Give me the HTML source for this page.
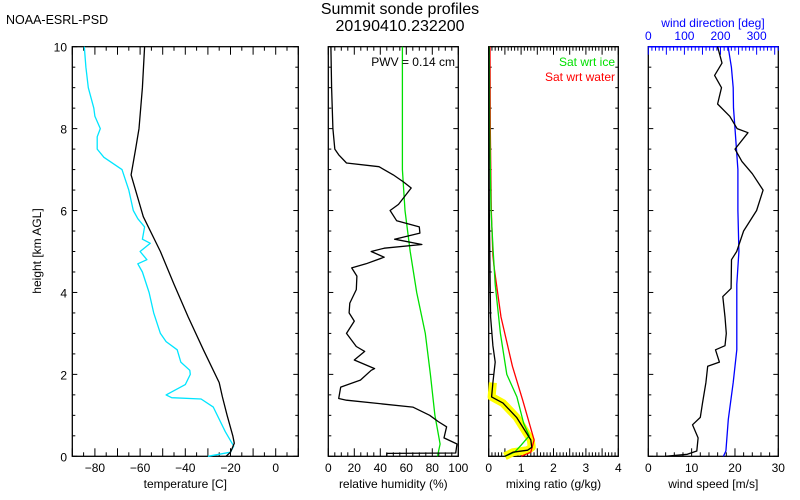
<!DOCTYPE html>
<html><head><meta charset="utf-8"><style>
body{margin:0;background:#fff;}
svg{display:block;font-family:"Liberation Sans","DejaVu Sans",sans-serif;}
</style></head><body>
<svg id="chart" width="800" height="500" viewBox="0 0 800 500" xmlns="http://www.w3.org/2000/svg">
<rect width="800" height="500" fill="#fff"/>
<text x="6" y="24" font-size="12.5">NOAA-ESRL-PSD</text>
<text x="400" y="14" font-size="16" text-anchor="middle">Summit sonde profiles</text>
<text x="400" y="31" font-size="16" text-anchor="middle">20190410.232200</text>
<g id="plots"></g>
</svg>
<script>
// ---- data (height km, value) ----
const tempH = [0,0.05,0.1,0.32,0.5,1.0,1.45,1.8,2.6,3.4,4.2,5.0,5.85,6.87,7.5,8,9,10];
const tempV = [-22,-21,-20,-18.3,-19,-21.5,-23.6,-25,-32,-38.7,-45,-51,-58.6,-64,-62,-60.5,-59,-58];
const dewH = [0,0.1,0.25,0.6,1.2,1.4,1.43,1.5,1.75,2.0,2.1,2.3,2.6,2.8,3.0,3.5,4.0,4.5,4.7,4.8,5.0,5.2,5.3,5.6,5.8,6.0,6.5,7.0,7.3,7.5,7.8,8.0,8.3,8.5,9,9.5,10];
const dewV = [-30,-20,-18.6,-22.3,-27.6,-33,-46,-48.5,-40,-37.8,-38,-42,-43.6,-48.5,-51,-54,-56,-59,-61,-57,-60,-55.5,-59,-58,-61,-63,-65,-68,-76,-79,-79,-77.6,-80,-80.5,-82.9,-84,-84.7];
const rhH = [0,0.07,0.08,0.3,0.45,0.72,0.85,1.0,1.2,1.37,1.41,1.69,1.86,2.1,2.14,2.35,2.56,2.68,3.0,3.3,3.5,3.74,4.07,4.4,4.6,4.7,4.86,5.0,5.08,5.17,5.3,5.45,5.6,5.75,6.0,6.15,6.55,6.7,6.87,7.07,7.16,7.36,7.5,8,9,10];
const rhV = [45,45,98,99,89,91,84.5,78,65,14,8,9.5,24.7,33,35.6,20,28,21.5,14,20,16,16.5,21.5,22,18,29,43,33,43,72,51,70.5,70,52.6,47.5,54,63.8,57.8,50,39,14,8,5,3.5,2.5,2];
const rhiH = [0,0.07,0.3,1,2,3,4,5,6,7,8,9,10];
const rhiV = [84,84.5,86,82,78.5,74.6,68,63,59,57,57,57,57];
const mrH = [0,0.1,0.15,0.22,0.4,0.95,1.3,1.45,1.8,2.3,2.7,3.4,4.5,6,8,10];
const mrV = [0.5,0.75,1.2,1.33,1.3,0.86,0.44,0.09,0.13,0.2,0.13,0.06,0.04,0.02,0.01,0.01];
const satIceH = [0,0.1,0.27,0.5,0.8,1.45,2.0,3.0,4.2,5,6,8,10];
const satIceV = [0.5,0.8,1.0,1.25,1.08,0.87,0.56,0.36,0.2,0.14,0.07,0.03,0.02];
const satWatH = [0,0.1,0.4,1.37,2.2,3.4,4.6,4.9,6,8,10];
const satWatV = [1.0,1.3,1.4,1.05,0.73,0.38,0.17,0.13,0.08,0.05,0.04];
const wsH = [0,0.05,0.13,0.45,0.77,0.95,1.3,1.8,2.2,2.3,2.6,2.7,3.0,3.4,3.9,4.1,4.8,5.0,5.5,6.0,6.5,6.9,7.2,7.5,7.9,8.0,8.3,8.6,9.0,9.3,9.6,10];
const wsV = [4,9,11.2,11.5,10.2,12,12.5,13.3,13.7,16.4,15.5,17.7,18,17.7,17.2,19.1,19.2,20.4,22,25,26.5,24,21.6,20,23,20.5,18.8,16,16.9,15.3,17,16];
const wdH = [0,0.13,0.9,1.8,2.6,3.4,4.2,5.0,6,7,8,8.5,9,9.5,10];
const wdV = [208,215,221.5,235,245,245,245,251,248,248,240,236,235,230,221];
const tempTicks = [-80,-60,-40,-20,0];
const rhTicks = [0,20,40,60,80,100];
const mrTicks = [0,1,2,3,4];
const wsTicks = [0,10,20,30];
const wdTicks = [0,100,200,300];
const hTicks = [0,2,4,6,8,10];

const NS='http://www.w3.org/2000/svg';
const g=document.getElementById('plots');
const Y0=456.3, Y1=46.7;
function yS(h){return Y0-(h/10)*(Y0-Y1);}
function mk(tag,attrs,parent){const e=document.createElementNS(NS,tag);for(const k in attrs)e.setAttribute(k,attrs[k]);(parent||g).appendChild(e);return e;}
function xScale(x0,x1,v0,v1){return v=>x0+(v-v0)/(v1-v0)*(x1-x0);}
const panels=[
 {name:'temperature',x0:72.3,x1:298.3,v0:-90,v1:10,ticks:tempTicks,minor:5,label:'temperature [C]'},
 {name:'humidity',x0:328.3,x1:458.3,v0:0,v1:100,ticks:rhTicks,minor:5,label:'relative humidity (%)'},
 {name:'mixing',x0:488.7,x1:618.3,v0:0,v1:4,ticks:mrTicks,minor:0.1,label:'mixing ratio (g/kg)'},
 {name:'wind',x0:648.3,x1:778.3,v0:0,v1:30,ticks:wsTicks,minor:2,label:'wind speed [m/s]'}
];
panels.forEach((p,i)=>{
 p.xs=xScale(p.x0,p.x1,p.v0,p.v1);
 const fr=mk('rect',{x:p.x0,y:Y1,width:p.x1-p.x0,height:Y0-Y1,fill:'none',stroke:'#000','stroke-width':1.3});
 
 
 // y ticks
 for(let h=0;h<=10.001;h+=0.5){
   const maj=Math.abs(h-Math.round(h/2)*2)<1e-6;const L=maj?5:3;
   mk('line',{x1:p.x0,x2:p.x0+L,y1:yS(h),y2:yS(h),stroke:'#000'});
   mk('line',{x1:p.x1,x2:p.x1-L,y1:yS(h),y2:yS(h),stroke:'#000'});
 }
 // x ticks
 const topAxis = (p.name!=='wind');
 for(let v=p.v0;v<=p.v1+1e-6;v+=p.minor){
   const maj=p.ticks.some(t=>Math.abs(t-v)<1e-6) || (p.name==='temperature'&&Math.abs(v%10)<1e-6)||(p.name==='mixing'&&Math.abs(v*2-Math.round(v*2))<1e-6)||(p.name==='wind'&&Math.abs(v%10)<1e-6);
   const L=maj?8:4;const x=p.xs(v);
   mk('line',{x1:x,x2:x,y1:Y0,y2:Y0-L,stroke:'#000'});
   if(topAxis) mk('line',{x1:x,x2:x,y1:Y1,y2:Y1+L,stroke:'#000'});
 }
 p.ticks.forEach(t=>{
   const tx=mk('text',{x:p.xs(t),y:472,'font-size':12,'text-anchor':'middle'});
   tx.textContent=(t<0?'\u2212'+(-t):String(t));
   
   
 });
 const lb=mk('text',{x:(p.x0+p.x1)/2,y:488,'font-size':12,'text-anchor':'middle'});
 lb.textContent=p.label;
 
 
});
// y labels
hTicks.forEach(h=>{
 const t=mk('text',{x:67,y:yS(h)+5,'font-size':12,'text-anchor':'end'});
 t.textContent=String(h);
 
 
});
const yt=mk('text',{x:0,y:0,'font-size':12,'text-anchor':'middle',transform:'translate(41,251) rotate(-90)'});
yt.textContent='height [km AGL]';



function line(p,H,V,color,w,name,xsOverride){
 const xs=xsOverride||p.xs;
 const d=H.map((h,i)=>(i?'L':'M')+xs(V[i]).toFixed(1)+','+yS(h).toFixed(1)).join('');
 const e=mk('path',{d:d,fill:'none',stroke:color,'stroke-width':w,'stroke-linejoin':'round'});
 
 
 return e;
}
const [P1,P2,P3,P4]=panels;
line(P1,dewH,dewV,'#00e5ff',1.3,'dewpoint-line');
line(P1,tempH,tempV,'#000',1.3,'temperature-line');
line(P2,rhiH,rhiV,'#00e000',1.3,'rh-ice-line');
line(P2,rhH,rhV,'#000',1.3,'rh-line');
// yellow band (lower part of mixing ratio)
const yH=[],yV=[];mrH.forEach((h,i)=>{if(h<=1.8){yH.push(h);yV.push(mrV[i]);}});
line(P3,yH,yV,'#ffff00',8,'supersaturation-band');
line(P3,satWatH,satWatV,'#ff0000',1.3,'sat-water-line');
line(P3,satIceH,satIceV,'#00e000',1.3,'sat-ice-line');
line(P3,mrH,mrV,'#000',1.3,'mixing-ratio-line');
const l1=mk('text',{x:615,y:66,'font-size':12,'text-anchor':'end',fill:'#00e000'});l1.textContent='Sat wrt ice';


const l2=mk('text',{x:615,y:81,'font-size':12,'text-anchor':'end',fill:'#ff0000'});l2.textContent='Sat wrt water';


const pw=mk('text',{x:455,y:66,'font-size':12,'text-anchor':'end'});pw.textContent='PWV = 0.14 cm';


// wind direction top axis
const wdx=xScale(P4.x0,P4.x1,0,360);
for(let v=0;v<=360;v+=10){const maj=v%50===0;const L=maj?8:4;mk('line',{x1:wdx(v),x2:wdx(v),y1:Y1,y2:Y1+L,stroke:'#0000ff'});}
mk('line',{x1:P4.x0,x2:P4.x1,y1:Y1,y2:Y1,stroke:'#0000ff','stroke-width':1.5});
wdTicks.forEach(t=>{const e=mk('text',{x:wdx(t),y:40,'font-size':12,'text-anchor':'middle',fill:'#0000ff'});e.textContent=String(t);
 
 });
const wdt=mk('text',{x:713,y:27,'font-size':12,'text-anchor':'middle',fill:'#0000ff'});wdt.textContent='wind direction [deg]';


line(P4,wdH,wdV,'#0000ff',1.3,'wind-direction-line',wdx);
line(P4,wsH,wsV,'#000',1.3,'wind-speed-line');
</script>
</body></html>
